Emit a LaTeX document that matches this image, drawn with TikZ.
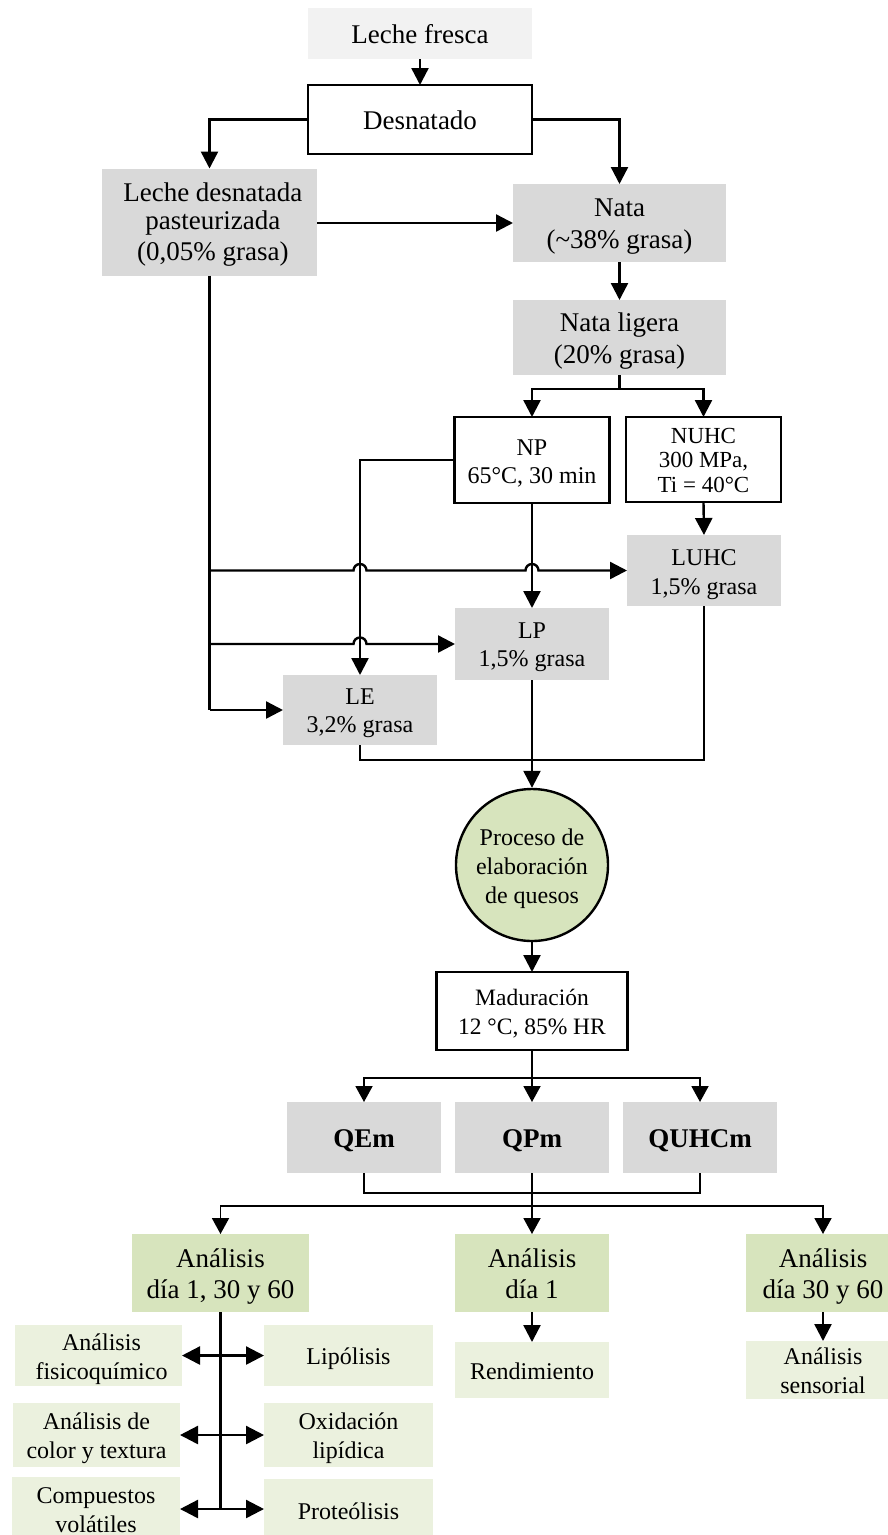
\documentclass[tikz,border=0pt]{standalone}
\usepackage{fontspec}
\setmainfont{Liberation Serif}
\usetikzlibrary{arrows.meta}
\definecolor{grayA}{HTML}{D9D9D9}
\definecolor{grayB}{HTML}{F2F2F2}
\definecolor{greenA}{HTML}{D7E4BD}
\definecolor{greenB}{HTML}{EBF1DE}
% strut that lowers the text block by #1 inside its node
\newcommand\st[1][3.5pt]{\rule[\dimexpr#1-0.3\baselineskip\relax]{0pt}{\baselineskip}}
\begin{document}
\begin{tikzpicture}[x=1pt,y=-1pt,
  box/.style={inner sep=0pt, outer sep=0pt, align=center, text=black},
  gbox/.style={box, fill=grayA},
  wbox/.style={box, draw, line width=2.4pt, fill=white},
  hbox/.style={box, fill=greenA, font=\fontsize{27}{31}\selectfont},
  sbox/.style={box, fill=greenB, font=\fontsize{24}{29}\selectfont},
  ln/.style={line width=2.4pt},
  tln/.style={line width=1.9pt},
  ar/.style={line width=2.4pt, -{Triangle[length=17pt,width=17pt]}},
  tar/.style={line width=1.9pt, -{Triangle[length=16pt,width=17pt]}},
  dar/.style={line width=2.4pt, {Triangle[length=18pt,width=18pt]}-{Triangle[length=18pt,width=18pt]}},
  hop/.style={start angle=180, end angle=0, radius=6.5pt}]
\useasboundingbox (0,0) rectangle (888,1535);
\fill[white] (0,0) rectangle (888,1535);
\clip (0,0) rectangle (888,1535);

% top
\node[box, fill=grayB, minimum width=224pt, minimum height=51pt, font=\fontsize{27}{31}\selectfont] (fresca) at (420,33.5) {\st Leche fresca};
\node[wbox, minimum width=224pt, minimum height=69pt, font=\fontsize{27}{31}\selectfont] (desn) at (420,119.5) {\st Desnatado};
\node[gbox, minimum width=215pt, minimum height=107pt, font=\fontsize{27}{27.5}\selectfont] (lds) at (209.5,222) {\st[5.5pt] Leche desnatada\\\st[5.5pt] pasteurizada\\\st[5.5pt] (0,05\% grasa)};
\node[gbox, minimum width=213pt, minimum height=78pt, font=\fontsize{27}{32}\selectfont] (nata) at (619.5,223) {\st Nata\\\st (\textasciitilde{}38\% grasa)};
\node[gbox, minimum width=213pt, minimum height=75pt, font=\fontsize{27}{32}\selectfont] (natal) at (619.5,337.5) {\st Nata ligera\\\st (20\% grasa)};
\node[wbox, minimum width=155pt, minimum height=86pt, font=\fontsize{24}{28}\selectfont] (np) at (532,460) {\st NP\\\st 65°C, 30 min};
\node[wbox, minimum width=155pt, minimum height=85pt, font=\fontsize{23}{24.5}\selectfont] (nuhc) at (703.5,459.5) {\st NUHC\\\st 300 MPa,\\\st Ti = 40°C};
\node[gbox, minimum width=154pt, minimum height=71pt, font=\fontsize{24}{29}\selectfont] (luhc) at (704,570.5) {\st LUHC\\\st 1,5\% grasa};
\node[gbox, minimum width=154pt, minimum height=72pt, font=\fontsize{24}{28}\selectfont] (lp) at (532,644) {\st LP\\\st 1,5\% grasa};
\node[gbox, minimum width=154pt, minimum height=70pt, font=\fontsize{24}{28}\selectfont] (le) at (360,710) {\st LE\\\st 3,2\% grasa};

% middle
\node[circle, draw, line width=2.4pt, fill=greenA, minimum size=152pt, inner sep=0pt, align=center, font=\fontsize{24}{29}\selectfont] (circ) at (532,865) {\st Proceso de\\\st elaboración\\\st de quesos};
\node[wbox, minimum width=191pt, minimum height=78pt, font=\fontsize{23.5}{29}\selectfont] (mad) at (532,1011) {\st Maduración\\\st 12 °C, 85\% HR};
\node[gbox, minimum width=154pt, minimum height=71pt, font=\fontsize{27}{31}\selectfont\bfseries] (qem) at (364,1137.5) {\st QEm};
\node[gbox, minimum width=154pt, minimum height=71pt, font=\fontsize{27}{31}\selectfont\bfseries] (qpm) at (532,1137.5) {\st QPm};
\node[gbox, minimum width=154pt, minimum height=71pt, font=\fontsize{27}{31}\selectfont\bfseries] (quhcm) at (700,1137.5) {\st QUHCm};

% bottom
\node[hbox, minimum width=177pt, minimum height=78pt] (ana1) at (220.5,1273) {\st Análisis\\\st día 1, 30 y 60};
\node[hbox, minimum width=154pt, minimum height=78pt] (ana2) at (532,1273) {\st Análisis\\\st día 1};
\node[hbox, minimum width=154pt, minimum height=78pt] (ana3) at (823,1273) {\st Análisis\\\st día 30 y 60};
\node[sbox, minimum width=167pt, minimum height=61pt] (fisico) at (98.5,1355.5) {\st[4.5pt] Análisis\\\st[4.5pt] fisicoquímico};
\node[sbox, minimum width=169pt, minimum height=61pt] (lipo) at (348.5,1355.5) {\st Lipólisis};
\node[sbox, minimum width=167pt, minimum height=64pt] (color) at (96.5,1435) {\st Análisis de\\\st color y textura};
\node[sbox, minimum width=169pt, minimum height=64pt] (oxid) at (348.5,1435) {\st Oxidación\\\st lipídica};
\node[sbox, minimum width=168pt, minimum height=64pt] (compu) at (96,1509) {\st Compuestos\\\st volátiles};
\node[sbox, minimum width=169pt, minimum height=62pt] (prote) at (348.5,1510) {\st Proteólisis};
\node[sbox, minimum width=154pt, minimum height=56pt] (rend) at (532,1370) {\st Rendimiento};
\node[sbox, minimum width=154pt, minimum height=56pt] (sens) at (823,1370) {\st Análisis\\\st sensorial};

% connectors top
\draw[ar] (fresca.south) -- (desn.north);
\draw[ar] (desn.west) -| (lds.north);
\draw[ar] (desn.east) -| (nata.north);
\draw[ar] (lds.east |- nata.west) -- (nata.west);
\draw[ar] (nata.south) -- (natal.north);
\coordinate (b1) at (619.5,389);
\draw[ln] (natal.south) -- (b1);
\draw[ar] (b1) -| (np.north);
\draw[ar] (b1) -| (nuhc.north);
\draw[ar] (np.west) -| (le.north);
\draw[ar] (np.south) -- (lp.north);
\draw[ar] (nuhc.south) -- (luhc.north);
% left spine with hops
\draw[ln] (lds.south) -- (lds.south |- le.west);
\draw[ar] (lds.south |- luhc.west) -- ([xshift=-6.5pt]le.north |- luhc.west) arc[hop]
  -- ([xshift=-6.5pt]lp.north |- luhc.west) arc[hop] -- (luhc.west);
\draw[ar] (lds.south |- lp.west) -- ([xshift=-6.5pt]le.north |- lp.west) arc[hop] -- (lp.west);
\draw[ar] (lds.south |- le.west) -- (le.west);
% join to cheese process
\coordinate (j) at (532,760);
\draw[ln] (le.south) |- (j) -| (luhc.south);
\draw[ar] (lp.south) -- (circ.north);
\draw[ar] (circ.south) -- (mad.north);
\coordinate (b2) at (532,1078);
\draw[tar] (mad.south) -- (qpm.north);
\draw[tar] (b2) -| (qem.north);
\draw[tar] (b2) -| (quhcm.north);
% cheeses to analyses
\coordinate (b3) at (532,1193);
\coordinate (b4) at (532,1206);
\draw[tln] (qem.south) |- (b3) -| (quhcm.south);
\draw[tar] (qpm.south) -- (ana2.north);
\draw[tar] (b4) -| (ana1.north);
\draw[tar] (b4) -| (ana3.north);
% analyses
\draw[ln] (ana1.south) -- (ana1.south |- compu.east);
\draw[dar] (fisico.east) -- (lipo.west);
\draw[dar] (color.east) -- (oxid.west);
\draw[dar] (compu.east) -- (compu.east -| prote.west);
\draw[ar] (ana2.south) -- (rend.north);
\draw[ar] (ana3.south) -- (sens.north);
\end{tikzpicture}
\end{document}
